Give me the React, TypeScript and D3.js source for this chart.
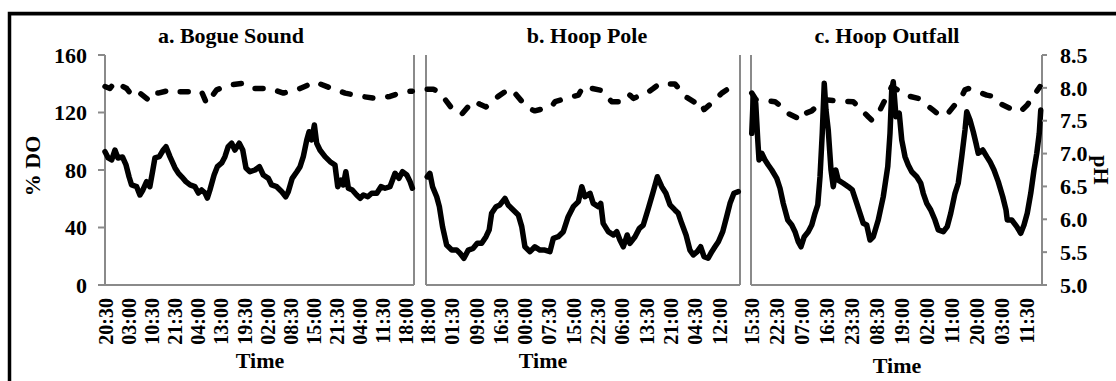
import React from "react";
import * as d3 from "d3";

const W = 1116;
const H = 381;
const FONT = '"Liberation Serif", "Times New Roman", Times, serif';
const AXIS_GRAY = "#8a8a8a";

// Category labels along each time axis (one label per step).
const bogueTicks = ["20:30", "03:00", "10:30", "21:30", "04:00", "13:00", "19:30", "02:00", "08:30", "15:00", "21:30", "04:00", "11:30", "18:00"];
const hoopPoleTicks = ["18:00", "01:30", "09:00", "16:30", "00:00", "07:30", "15:00", "22:30", "06:00", "13:30", "21:00", "04:30", "12:00"];
const hoopOutfallTicks = ["15:30", "22:30", "07:00", "16:30", "23:30", "08:30", "19:00", "02:00", "11:00", "20:00", "03:00", "11:30"];

const doTicks = [0, 40, 80, 120, 160];
const phTicks = [5.0, 5.5, 6.0, 6.5, 7.0, 7.5, 8.0, 8.5];

type Pt = [number, number]; // [position in label steps, value]

// a. Bogue Sound
const bogueDO: Pt[] = [
  [-0.04, 92.7], [0.1, 88.4], [0.25, 87.0], [0.39, 93.9], [0.52, 88.4], [0.72, 89.0], [0.87, 83.5], [1.0, 75.3],
  [1.11, 69.6], [1.33, 68.4], [1.47, 62.6], [1.6, 66.1], [1.76, 71.9], [1.9, 68.4], [2.03, 80.0], [2.12, 88.4],
  [2.31, 89.3], [2.48, 93.9], [2.6, 96.2], [2.77, 89.3], [2.99, 81.4], [3.13, 77.9], [3.28, 75.3], [3.46, 71.9],
  [3.64, 69.6], [3.85, 68.4], [4.0, 64.0], [4.14, 66.1], [4.29, 64.0], [4.39, 60.5], [4.5, 66.1], [4.68, 76.5],
  [4.82, 82.3], [5.01, 84.9], [5.15, 89.3], [5.29, 96.2], [5.44, 98.6], [5.58, 93.9], [5.77, 98.6], [5.92, 93.9],
  [6.06, 81.4], [6.23, 78.8], [6.45, 80.0], [6.64, 82.3], [6.81, 76.5], [7.03, 74.2], [7.17, 69.6], [7.39, 68.4],
  [7.61, 64.9], [7.78, 61.4], [7.89, 64.9], [8.06, 74.2], [8.26, 78.8], [8.4, 82.3], [8.54, 89.3], [8.69, 100.9],
  [8.79, 106.6], [8.9, 100.9], [9.02, 111.3], [9.12, 98.6], [9.26, 93.9], [9.48, 89.3], [9.7, 85.8], [9.91, 83.5],
  [10.03, 68.4], [10.17, 73.0], [10.27, 69.6], [10.38, 78.8], [10.49, 67.3], [10.66, 66.1], [10.85, 62.6], [11.0, 60.3],
  [11.14, 62.6], [11.33, 61.4], [11.5, 63.8], [11.72, 63.8], [11.9, 68.4], [12.08, 67.3], [12.29, 68.4], [12.51, 77.7],
  [12.68, 74.2], [12.83, 78.8], [13.02, 76.5], [13.16, 71.9], [13.26, 67.3],
];
const boguePH: Pt[] = [
  [-0.04, 8.02], [0.17, 7.99], [0.39, 8.09], [0.9, 7.99], [1.11, 7.89], [1.4, 7.94], [1.83, 7.82], [1.98, 7.92],
  [2.26, 7.92], [2.84, 7.97], [3.13, 7.94], [3.49, 7.94], [4.14, 7.94], [4.36, 7.76], [4.79, 7.97], [5.29, 8.04],
  [5.94, 8.07], [6.38, 7.99], [7.1, 7.99], [7.68, 7.92], [8.4, 7.99], [9.05, 8.09], [9.77, 7.99], [10.35, 7.92],
  [11.07, 7.87], [11.65, 7.84], [12.29, 7.87], [12.87, 7.94], [13.26, 7.95],
];

// b. Hoop Pole
const hoopPoleDO: Pt[] = [
  [-0.03, 75.3], [0.08, 77.7], [0.19, 68.4], [0.36, 61.4], [0.47, 54.5], [0.6, 40.6], [0.77, 27.8], [0.98, 24.3],
  [1.18, 24.3], [1.32, 22.1], [1.48, 18.6], [1.66, 24.3], [1.86, 25.5], [2.03, 29.0], [2.21, 29.0], [2.39, 33.6],
  [2.52, 38.3], [2.62, 49.9], [2.8, 54.5], [2.96, 55.7], [3.17, 60.3], [3.3, 55.7], [3.51, 52.2], [3.72, 48.7],
  [3.86, 40.6], [3.99, 26.6], [4.2, 23.2], [4.4, 26.6], [4.61, 24.3], [4.81, 24.3], [5.02, 23.2], [5.16, 32.5],
  [5.36, 33.6], [5.57, 37.1], [5.77, 47.5], [5.98, 54.5], [6.19, 58.0], [6.33, 68.4], [6.46, 61.4], [6.67, 63.8],
  [6.8, 56.8], [7.01, 54.5], [7.11, 56.8], [7.21, 42.9], [7.42, 37.1], [7.63, 34.8], [7.77, 37.1], [7.9, 31.3],
  [8.04, 26.6], [8.2, 34.8], [8.31, 29.0], [8.52, 33.6], [8.7, 39.4], [8.86, 41.7], [9.07, 53.4], [9.25, 63.8],
  [9.44, 75.3], [9.62, 68.4], [9.79, 63.8], [9.96, 55.7], [10.16, 52.2], [10.3, 49.9], [10.44, 42.9], [10.62, 34.8],
  [10.78, 24.3], [10.92, 20.9], [11.08, 23.2], [11.22, 26.6], [11.36, 19.7], [11.53, 18.6], [11.68, 23.2], [11.81, 26.6],
  [11.95, 30.1], [12.13, 37.1], [12.29, 47.5], [12.43, 56.8], [12.59, 63.8], [12.77, 64.9],
];
const hoopPolePH: Pt[] = [
  [-0.03, 7.98], [0.22, 7.98], [0.49, 7.93], [0.98, 7.69], [1.18, 7.67], [1.39, 7.6], [1.86, 7.8], [2.14, 7.75],
  [2.39, 7.71], [2.89, 7.87], [3.17, 7.94], [3.44, 7.98], [3.92, 7.77], [4.13, 7.69], [4.4, 7.65], [4.95, 7.7],
  [5.09, 7.72], [5.23, 7.79], [5.98, 7.87], [6.19, 7.89], [6.39, 8.02], [7.15, 7.96], [7.35, 7.87], [7.56, 7.79],
  [8.11, 7.79], [8.31, 7.89], [8.45, 7.84], [9.0, 7.92], [9.27, 7.99], [9.52, 8.06], [10.16, 8.06], [10.37, 7.97],
  [10.58, 7.87], [11.06, 7.76], [11.22, 7.79], [11.36, 7.67], [11.74, 7.79], [12.09, 7.92], [12.7, 8.07],
];

// c. Hoop Outfall
const hoopOutfallDO: Pt[] = [
  [-0.01, 105.5], [0.05, 131.0], [0.15, 126.4], [0.23, 100.9], [0.28, 87.0], [0.39, 91.6], [0.52, 87.0], [0.65, 83.5],
  [0.79, 80.0], [0.99, 74.2], [1.12, 67.3], [1.25, 56.8], [1.43, 45.2], [1.59, 41.7], [1.72, 37.1], [1.85, 30.1],
  [1.96, 26.6], [2.09, 33.6], [2.25, 37.1], [2.39, 41.7], [2.52, 49.9], [2.63, 55.7], [2.72, 75.3], [2.81, 105.5],
  [2.89, 140.3], [2.96, 121.7], [3.05, 107.8], [3.16, 80.0], [3.25, 68.4], [3.35, 80.0], [3.45, 73.0], [3.65, 70.8],
  [3.85, 68.4], [4.01, 66.1], [4.19, 56.8], [4.32, 49.9], [4.45, 42.9], [4.59, 41.7], [4.72, 31.3], [4.85, 33.6],
  [5.05, 45.2], [5.25, 61.4], [5.43, 82.3], [5.52, 105.5], [5.59, 135.7], [5.65, 141.4], [5.76, 117.1], [5.89, 119.5],
  [5.99, 100.9], [6.12, 89.3], [6.25, 83.5], [6.39, 78.8], [6.59, 75.3], [6.75, 70.8], [6.85, 63.8], [6.99, 56.8],
  [7.15, 52.2], [7.32, 45.2], [7.45, 38.3], [7.65, 37.1], [7.81, 40.6], [7.95, 49.9], [8.12, 63.8], [8.25, 70.8],
  [8.39, 89.3], [8.52, 107.8], [8.59, 120.6], [8.72, 114.8], [8.85, 106.6], [8.96, 98.6], [9.05, 91.6], [9.23, 93.9],
  [9.39, 89.3], [9.52, 85.8], [9.68, 80.0], [9.85, 71.9], [10.03, 61.4], [10.16, 52.2], [10.21, 45.2], [10.39, 45.2],
  [10.59, 40.6], [10.75, 36.0], [10.88, 41.7], [11.01, 49.9], [11.15, 63.8], [11.28, 80.0], [11.39, 91.6], [11.49, 105.5],
  [11.55, 121.7],
];
const hoopOutfallPH: Pt[] = [
  [-0.01, 7.92], [0.16, 7.82], [0.92, 7.79], [1.19, 7.71], [1.39, 7.62], [1.99, 7.51], [2.12, 7.61], [2.39, 7.65],
  [2.88, 7.82], [3.45, 7.8], [4.05, 7.79], [4.65, 7.56], [4.79, 7.51], [5.05, 7.61], [5.59, 8.02], [6.05, 7.92],
  [6.32, 7.87], [6.65, 7.84], [7.25, 7.66], [7.45, 7.6], [7.79, 7.59], [8.39, 7.87], [8.52, 7.97], [8.65, 7.99],
  [9.39, 7.89], [9.65, 7.87], [9.92, 7.76], [10.59, 7.64], [10.79, 7.66], [11.01, 7.74], [11.52, 8.02],
];

interface PanelSpec {
  key: string;
  title: string;
  titleX: number;
  timeX: number;
  timeY: number;
  ticks: string[];
  domain: [number, number];
  range: [number, number];
  doSeries: Pt[];
  phSeries: Pt[];
}

const PLOT_TOP = 55;
const PLOT_BOTTOM = 285;

const panels: PanelSpec[] = [
  { key: "a", title: "a. Bogue Sound", titleX: 231, timeX: 260, timeY: 368, ticks: bogueTicks, domain: [-0.04, 13.33], range: [105, 414], doSeries: bogueDO, phSeries: boguePH },
  { key: "b", title: "b. Hoop Pole", titleX: 587, timeX: 543, timeY: 368, ticks: hoopPoleTicks, domain: [-0.08, 12.84], range: [426, 740], doSeries: hoopPoleDO, phSeries: hoopPolePH },
  { key: "c", title: "c. Hoop Outfall", titleX: 887, timeX: 897, timeY: 373, ticks: hoopOutfallTicks, domain: [-0.04, 11.6], range: [751, 1042], doSeries: hoopOutfallDO, phSeries: hoopOutfallPH },
];

const yDO = d3.scaleLinear().domain([0, 160]).range([PLOT_BOTTOM, PLOT_TOP]);
const yPH = d3.scaleLinear().domain([5, 8.5]).range([PLOT_BOTTOM, PLOT_TOP]);

function Panel({ p }: { p: PanelSpec }) {
  const x = d3.scaleLinear().domain(p.domain).range(p.range);
  const doLine = d3.line<Pt>().x((d) => x(d[0])).y((d) => yDO(d[1]));
  const phLine = d3.line<Pt>().x((d) => x(d[0])).y((d) => yPH(d[1]));
  const [x0, x1] = p.range;
  return (
    <g>
      {/* plot frame: left, right and bottom rules */}
      <line x1={x0} x2={x0} y1={PLOT_TOP} y2={PLOT_BOTTOM} stroke={AXIS_GRAY} strokeWidth={2} />
      <line x1={x1} x2={x1} y1={PLOT_TOP} y2={PLOT_BOTTOM} stroke={AXIS_GRAY} strokeWidth={2} />
      <line x1={x0} x2={x1} y1={PLOT_BOTTOM} y2={PLOT_BOTTOM} stroke={AXIS_GRAY} strokeWidth={2} />

      <path d={phLine(p.phSeries) ?? ""} fill="none" stroke="#000" strokeWidth={5.5} strokeDasharray="8 15" strokeLinecap="round" strokeLinejoin="round" />
      <path d={doLine(p.doSeries) ?? ""} fill="none" stroke="#000" strokeWidth={5.5} strokeLinejoin="round" strokeLinecap="round" />

      <text x={p.titleX} y={43} textAnchor="middle" fontFamily={FONT} fontWeight="bold" fontSize={22}>{p.title}</text>

      {p.ticks.map((lab, i) => (
        <text key={i} transform={`translate(${x(i)},298) rotate(-90)`} textAnchor="end" dy="0.35em" fontFamily={FONT} fontWeight="bold" fontSize={20}>{lab}</text>
      ))}

      <text x={p.timeX} y={p.timeY} textAnchor="middle" fontFamily={FONT} fontWeight="bold" fontSize={22}>Time</text>
    </g>
  );
}

export default function App() {
  const left = panels[0].range[0];
  const right = panels[2].range[1];
  return (
    <svg width={W} height={H} style={{ position: "fixed", left: 0, top: 0, background: "#fff" }}>
      <rect x={0} y={0} width={W} height={H} fill="#fff" />
      {/* outer frame */}
      <line x1={11} x2={W} y1={15.5} y2={15.5} stroke="#b0b0b0" strokeWidth={1} />
      <rect x={9.5} y={13.5} width={1300} height={600} fill="none" stroke="#000" strokeWidth={3.5} />

      {panels.map((p) => (
        <Panel key={p.key} p={p} />
      ))}

      {/* % DO axis */}
      <line x1={left - 7} x2={left} y1={PLOT_BOTTOM} y2={PLOT_BOTTOM} stroke={AXIS_GRAY} strokeWidth={2} />
      {doTicks.map((t) => (
        <g key={t}>
          <line x1={left - 7} x2={left} y1={yDO(t)} y2={yDO(t)} stroke={AXIS_GRAY} strokeWidth={2} />
          <text x={87} y={yDO(t)} dy="0.35em" textAnchor="end" fontFamily={FONT} fontWeight="bold" fontSize={22}>{t}</text>
        </g>
      ))}
      <text transform={`translate(40,166) rotate(-90)`} textAnchor="middle" fontFamily={FONT} fontWeight="bold" fontSize={22}>% DO</text>

      {/* pH axis */}
      {phTicks.map((t) => (
        <g key={t}>
          <line x1={right} x2={right + 5} y1={yPH(t)} y2={yPH(t)} stroke={AXIS_GRAY} strokeWidth={2} />
          <text x={1060} y={yPH(t)} dy="0.35em" textAnchor="start" fontFamily={FONT} fontWeight="bold" fontSize={22}>{d3.format(".1f")(t)}</text>
        </g>
      ))}
      <text transform={`translate(1094,170) rotate(90)`} textAnchor="middle" fontFamily={FONT} fontWeight="bold" fontSize={22}>pH</text>
    </svg>
  );
}
